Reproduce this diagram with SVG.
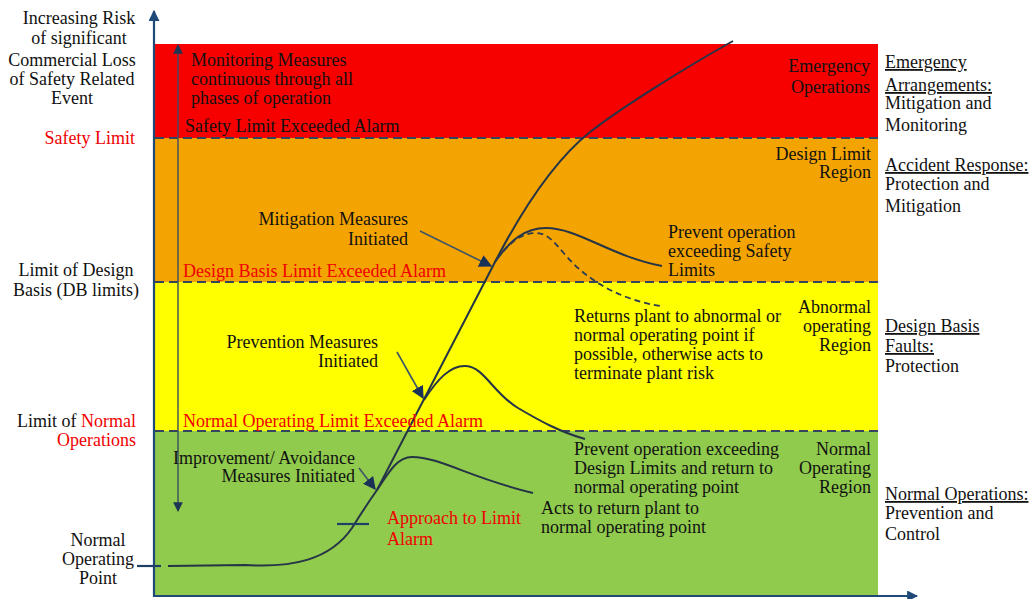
<svg xmlns="http://www.w3.org/2000/svg" width="1030" height="599" viewBox="0 0 1030 599">
  <defs>
    <style>
      text { font-family: "Liberation Serif", "Times New Roman", serif; font-size: 18px; fill: #111; }
      .red { fill: #f00000; }
      .r { text-anchor: end; }
      .m { text-anchor: middle; }
      .u { text-decoration: underline; }
      .limit { stroke: #34465f; stroke-width: 2.2; stroke-dasharray: 9 5; fill: none; }
      .curve { stroke: #253446; stroke-width: 2; fill: none; }
      .dcurve { stroke: #2c3c52; stroke-width: 1.8; stroke-dasharray: 6 4; fill: none; }
      .axis { stroke: #1f4a78; stroke-width: 2.2; fill: none; }
      .ptr { stroke: #3d5566; stroke-width: 1.6; fill: none; }
      .tick { stroke: #1f3f66; stroke-width: 2.2; }
    </style>
    <marker id="axisHead" viewBox="0 0 10 10" refX="9" refY="5" markerWidth="5" markerHeight="5" orient="auto" markerUnits="strokeWidth">
      <path d="M0,0 L10,5 L0,10 z" fill="#1f4a78"/>
    </marker>
    <marker id="rangeHead" viewBox="0 0 10 10" refX="9" refY="5" markerWidth="7" markerHeight="7" orient="auto-start-reverse" markerUnits="strokeWidth">
      <path d="M0,0 L10,5 L0,10 z" fill="#1f3554"/>
    </marker>
    <marker id="ptrHead" viewBox="0 0 10 10" refX="9" refY="5" markerWidth="8" markerHeight="8" orient="auto" markerUnits="strokeWidth">
      <path d="M0,0 L10,5 L0,10 z" fill="#1a3158"/>
    </marker>
  </defs>

  <!-- operating bands -->
  <g id="bands">
    <rect id="band-emergency" x="155" y="44" width="723" height="94" fill="#f70000"/>
    <rect id="band-design" x="155" y="138" width="723" height="144" fill="#f4a400"/>
    <rect id="band-abnormal" x="155" y="282" width="723" height="149" fill="#ffff00"/>
    <rect id="band-normal" x="155" y="431" width="723" height="165" fill="#90cb4e"/>
  </g>

  <!-- limit lines -->
  <g id="limits">
    <line class="limit" x1="155" y1="138" x2="878" y2="138"/>
    <line class="limit" x1="155" y1="282" x2="878" y2="282"/>
    <line class="limit" x1="155" y1="431" x2="878" y2="431"/>
  </g>

  <!-- axes and monitoring range arrow -->
  <g id="axes">
    <line class="axis" x1="154" y1="597" x2="154" y2="11" marker-end="url(#axisHead)"/>
    <line class="axis" x1="153" y1="596" x2="917" y2="596" marker-end="url(#axisHead)"/>
    <line x1="178" y1="45" x2="178" y2="511" stroke="#3b4d5e" stroke-width="1.4" marker-start="url(#rangeHead)" marker-end="url(#rangeHead)"/>
  </g>

  <!-- connectors: plant risk trajectories, annotation pointers and ticks -->
  <g id="connectors">
    <line class="tick" x1="137" y1="566" x2="161" y2="566"/>
    <path id="trajectory" class="curve" d="M168,566 L245,565 C292,568 330,560 352,528 C362,512 370,500 377,490 L495,262 C523,208 555,160 590,132 C625,105 690,65 733,41"/>
    <line class="tick" x1="337" y1="524" x2="369" y2="524"/>
    <path id="improvement-curve" class="curve" d="M377,490 C390,470 398,457 412,457 C440,457 470,478 533,493"/>
    <path id="prevention-curve" class="curve" d="M424,400 C437,380 450,365 466,366 C484,367 494,394 518,408 C540,421 560,432 585,439"/>
    <path id="mitigation-curve" class="curve" d="M495,262 C510,240 525,228 546,228 C578,228 610,256 662,266"/>
    <path id="return-curve" class="dcurve" d="M497,259 C510,243 520,233 536,233 C552,233 560,252 578,268 C600,287 625,300 660,306"/>
    <line class="ptr" x1="420" y1="231" x2="491" y2="266" marker-end="url(#ptrHead)"/>
    <line class="ptr" x1="397" y1="352" x2="423" y2="398" marker-end="url(#ptrHead)"/>
    <line class="ptr" x1="359" y1="468" x2="375" y2="489" marker-end="url(#ptrHead)"/>
  </g>

  <!-- vertical axis labels -->
  <g id="axis-labels">
    <text class="m" x="79" y="24">Increasing Risk</text>
    <text class="m" x="79" y="44">of significant</text>
    <text class="m" x="72" y="66">Commercial Loss</text>
    <text class="m" x="72" y="85">of Safety Related</text>
    <text class="m" x="72" y="104">Event</text>
    <text class="r red" x="135" y="144">Safety Limit</text>
    <text class="m" x="76" y="276">Limit of Design</text>
    <text class="m" x="76" y="296">Basis (DB limits)</text>
    <text class="r" x="136" y="427">Limit of <tspan class="red">Normal</tspan></text>
    <text class="r red" x="136" y="446">Operations</text>
    <text class="m" x="98" y="546">Normal</text>
    <text class="m" x="98" y="565">Operating</text>
    <text class="m" x="98" y="584">Point</text>
  </g>

  <!-- labels inside the bands -->
  <g id="band-labels">
    <text x="191" y="66">Monitoring Measures</text>
    <text x="191" y="85">continuous through all</text>
    <text x="191" y="104">phases of operation</text>
    <text x="185" y="132">Safety Limit Exceeded Alarm</text>
    <text class="r" x="870" y="72">Emergency</text>
    <text class="r" x="870" y="93">Operations</text>
    <text class="r" x="871" y="160">Design Limit</text>
    <text class="r" x="871" y="178">Region</text>
    <text class="r" x="408" y="225">Mitigation Measures</text>
    <text class="r" x="408" y="245">Initiated</text>
    <text class="red" x="183" y="277">Design Basis Limit Exceeded Alarm</text>
    <text x="668" y="238">Prevent operation</text>
    <text x="668" y="257">exceeding Safety</text>
    <text x="668" y="276">Limits</text>
    <text x="574" y="322">Returns plant to abnormal or</text>
    <text x="574" y="341">normal operating point if</text>
    <text x="574" y="360">possible, otherwise acts to</text>
    <text x="574" y="379">terminate plant risk</text>
    <text class="r" x="871" y="313">Abnormal</text>
    <text class="r" x="871" y="332">operating</text>
    <text class="r" x="871" y="351">Region</text>
    <text class="r" x="378" y="348">Prevention Measures</text>
    <text class="r" x="378" y="367">Initiated</text>
    <text class="red" x="183" y="427">Normal Operating Limit Exceeded Alarm</text>
    <text class="r" x="355" y="464">Improvement/ Avoidance</text>
    <text class="r" x="355" y="482">Measures Initiated</text>
    <text x="574" y="455">Prevent operation exceeding</text>
    <text x="574" y="474">Design Limits and return to</text>
    <text x="574" y="493">normal operating point</text>
    <text class="r" x="871" y="455">Normal</text>
    <text class="r" x="871" y="474">Operating</text>
    <text class="r" x="871" y="493">Region</text>
    <text class="red" x="387" y="524">Approach to Limit</text>
    <text class="red" x="387" y="545">Alarm</text>
    <text x="541" y="514">Acts to return plant to</text>
    <text x="541" y="533">normal operating point</text>
  </g>

  <!-- response categories -->
  <g id="responses">
    <text class="u" x="885" y="68">Emergency</text>
    <text class="u" x="885" y="91">Arrangements:</text>
    <text x="885" y="109">Mitigation and</text>
    <text x="885" y="131">Monitoring</text>
    <text class="u" x="885" y="171">Accident Response:</text>
    <text x="885" y="190">Protection and</text>
    <text x="885" y="212">Mitigation</text>
    <text class="u" x="885" y="332">Design Basis</text>
    <text class="u" x="885" y="352">Faults:</text>
    <text x="885" y="372">Protection</text>
    <text class="u" x="885" y="500">Normal Operations:</text>
    <text x="885" y="519">Prevention and</text>
    <text x="885" y="540">Control</text>
  </g>
</svg>
